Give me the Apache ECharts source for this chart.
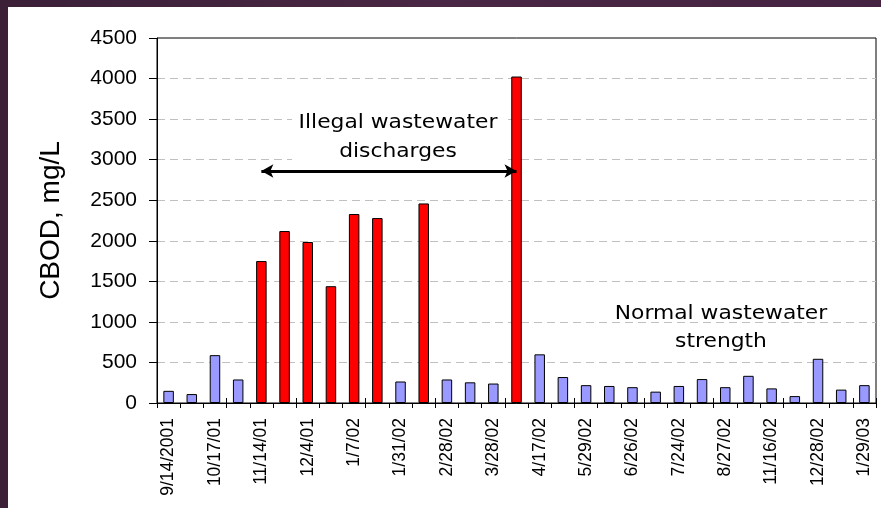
<!DOCTYPE html>
<html>
<head>
<meta charset="utf-8">
<script src="https://cdn.jsdelivr.net/npm/echarts@6/dist/echarts.min.js"></script>
<style>
    html, body{
        margin: 0;
        padding: 0;
        width: 881px;
        height: 508px;
        overflow: hidden;
        background: linear-gradient(90deg, #3b2038, #4a2744 50%, #452342);
    }
    #chart{
        position: absolute;
        left: 8px;
        top: 7px;
        width: 873px;
        height: 501px;
        background-color: #fff;
    }
</style>
</head>
<body>
<div id="chart"></div>
<script>
    // sample dates (only every other one is printed on the axis)
    var dates = ['9/14/2001', '', '10/17/01', '', '11/14/01', '', '12/4/01', '', '1/7/02', '',
        '1/31/02', '', '2/28/02', '', '3/28/02', '', '4/17/02', '', '5/29/02', '',
        '6/26/02', '', '7/24/02', '', '8/27/02', '', '11/16/02', '', '12/28/02', '', '1/29/03'];
    // CBOD, mg/L
    var cbod = [150, 110, 590, 290, 1750, 2120, 1985, 1440, 2330, 2280,
        265, 2460, 290, 255, 240, 4025, 600, 320, 220, 210,
        195, 140, 210, 295, 195, 335, 180, 85, 545, 165, 220];
    // 1 = illegal discharge sample
    var illegal = [0, 0, 0, 0, 1, 1, 1, 1, 1, 1,
        0, 1, 0, 0, 0, 1, 0, 0, 0, 0,
        0, 0, 0, 0, 0, 0, 0, 0, 0, 0, 0];
    var yTicks = [0, 500, 1000, 1500, 2000, 2500, 3000, 3500, 4000, 4500];

    var myChart = echarts.init(document.getElementById('chart'));

    var barData = cbod.map(function (v, i) {
        return {
            value: v,
            itemStyle: {color: illegal[i] ? '#ff0000' : '#9999ff'}
        };
    });

    myChart.setOption({
        animation: false,
        grid: {
            left: 149,
            right: 5,
            top: 31,
            bottom: 105,
            show: true,
            borderColor: '#000',
            borderWidth: 1
        },
        xAxis: [
            {
                type: 'category',
                data: dates,
                axisLine: {lineStyle: {color: '#000', width: 1}},
                axisTick: {show: true, length: 5, lineStyle: {color: '#000'}},
                axisLabel: {
                    interval: 0,
                    rotate: 90,
                    margin: 15,
                    color: '#000',
                    fontFamily: 'Liberation Sans',
                    fontSize: 17.5
                }
            },
            {
                type: 'category',
                data: dates,
                position: 'bottom',
                axisLine: {show: false},
                axisTick: {show: true, inside: true, length: 5, lineStyle: {color: '#000'}},
                axisLabel: {show: false}
            }
        ],
        yAxis: {
            type: 'value',
            min: yTicks[0],
            max: yTicks[yTicks.length - 1],
            interval: 500,
            name: 'CBOD, mg/L',
            nameLocation: 'middle',
            nameRotate: 90,
            nameGap: 92,
            nameTextStyle: {
                color: '#000',
                fontFamily: 'Liberation Sans',
                fontSize: 28
            },
            axisLine: {show: true, lineStyle: {color: '#000', width: 1}},
            axisTick: {show: true, length: 8, lineStyle: {color: '#000'}},
            axisLabel: {
                margin: 20,
                color: '#000',
                fontFamily: 'Liberation Sans',
                fontSize: 21,
                formatter: function (v) { return String(v); }
            },
            splitLine: {
                show: true,
                showMinLine: false,
                showMaxLine: false,
                lineStyle: {color: '#c0c0c0', type: [8, 5], width: 1}
            }
        },
        series: [
            {
                type: 'bar',
                xAxisIndex: 0,
                data: barData,
                barWidth: 10.5,
                itemStyle: {borderColor: '#000', borderWidth: 1},
                markLine: {
                    silent: true,
                    symbol: ['arrow', 'arrow'],
                    symbolSize: [10, 12],
                    label: {show: false},
                    lineStyle: {color: '#000', width: 3, type: 'solid'},
                    data: [
                        [{coord: [3.94, 2860]}, {coord: [14.8, 2860]}]
                    ]
                }
            }
        ],
        graphic: [
            {
                type: 'text',
                x: 390,
                y: 130,
                z: 10,
                scaleX: 1.09,
                style: {
                    text: 'Illegal wastewater\ndischarges',
                    fill: '#000',
                    font: '20px "DejaVu Sans"',
                    lineHeight: 29,
                    align: 'center',
                    verticalAlign: 'middle',
                    backgroundColor: '#fff',
                    padding: [0, 6]
                }
            },
            {
                type: 'text',
                x: 713,
                y: 321,
                z: 10,
                scaleX: 1.09,
                style: {
                    text: 'Normal wastewater\nstrength',
                    fill: '#000',
                    font: '20px "DejaVu Sans"',
                    lineHeight: 28,
                    align: 'center',
                    verticalAlign: 'middle'
                }
            }
        ]
    });
</script>
</body>
</html>
